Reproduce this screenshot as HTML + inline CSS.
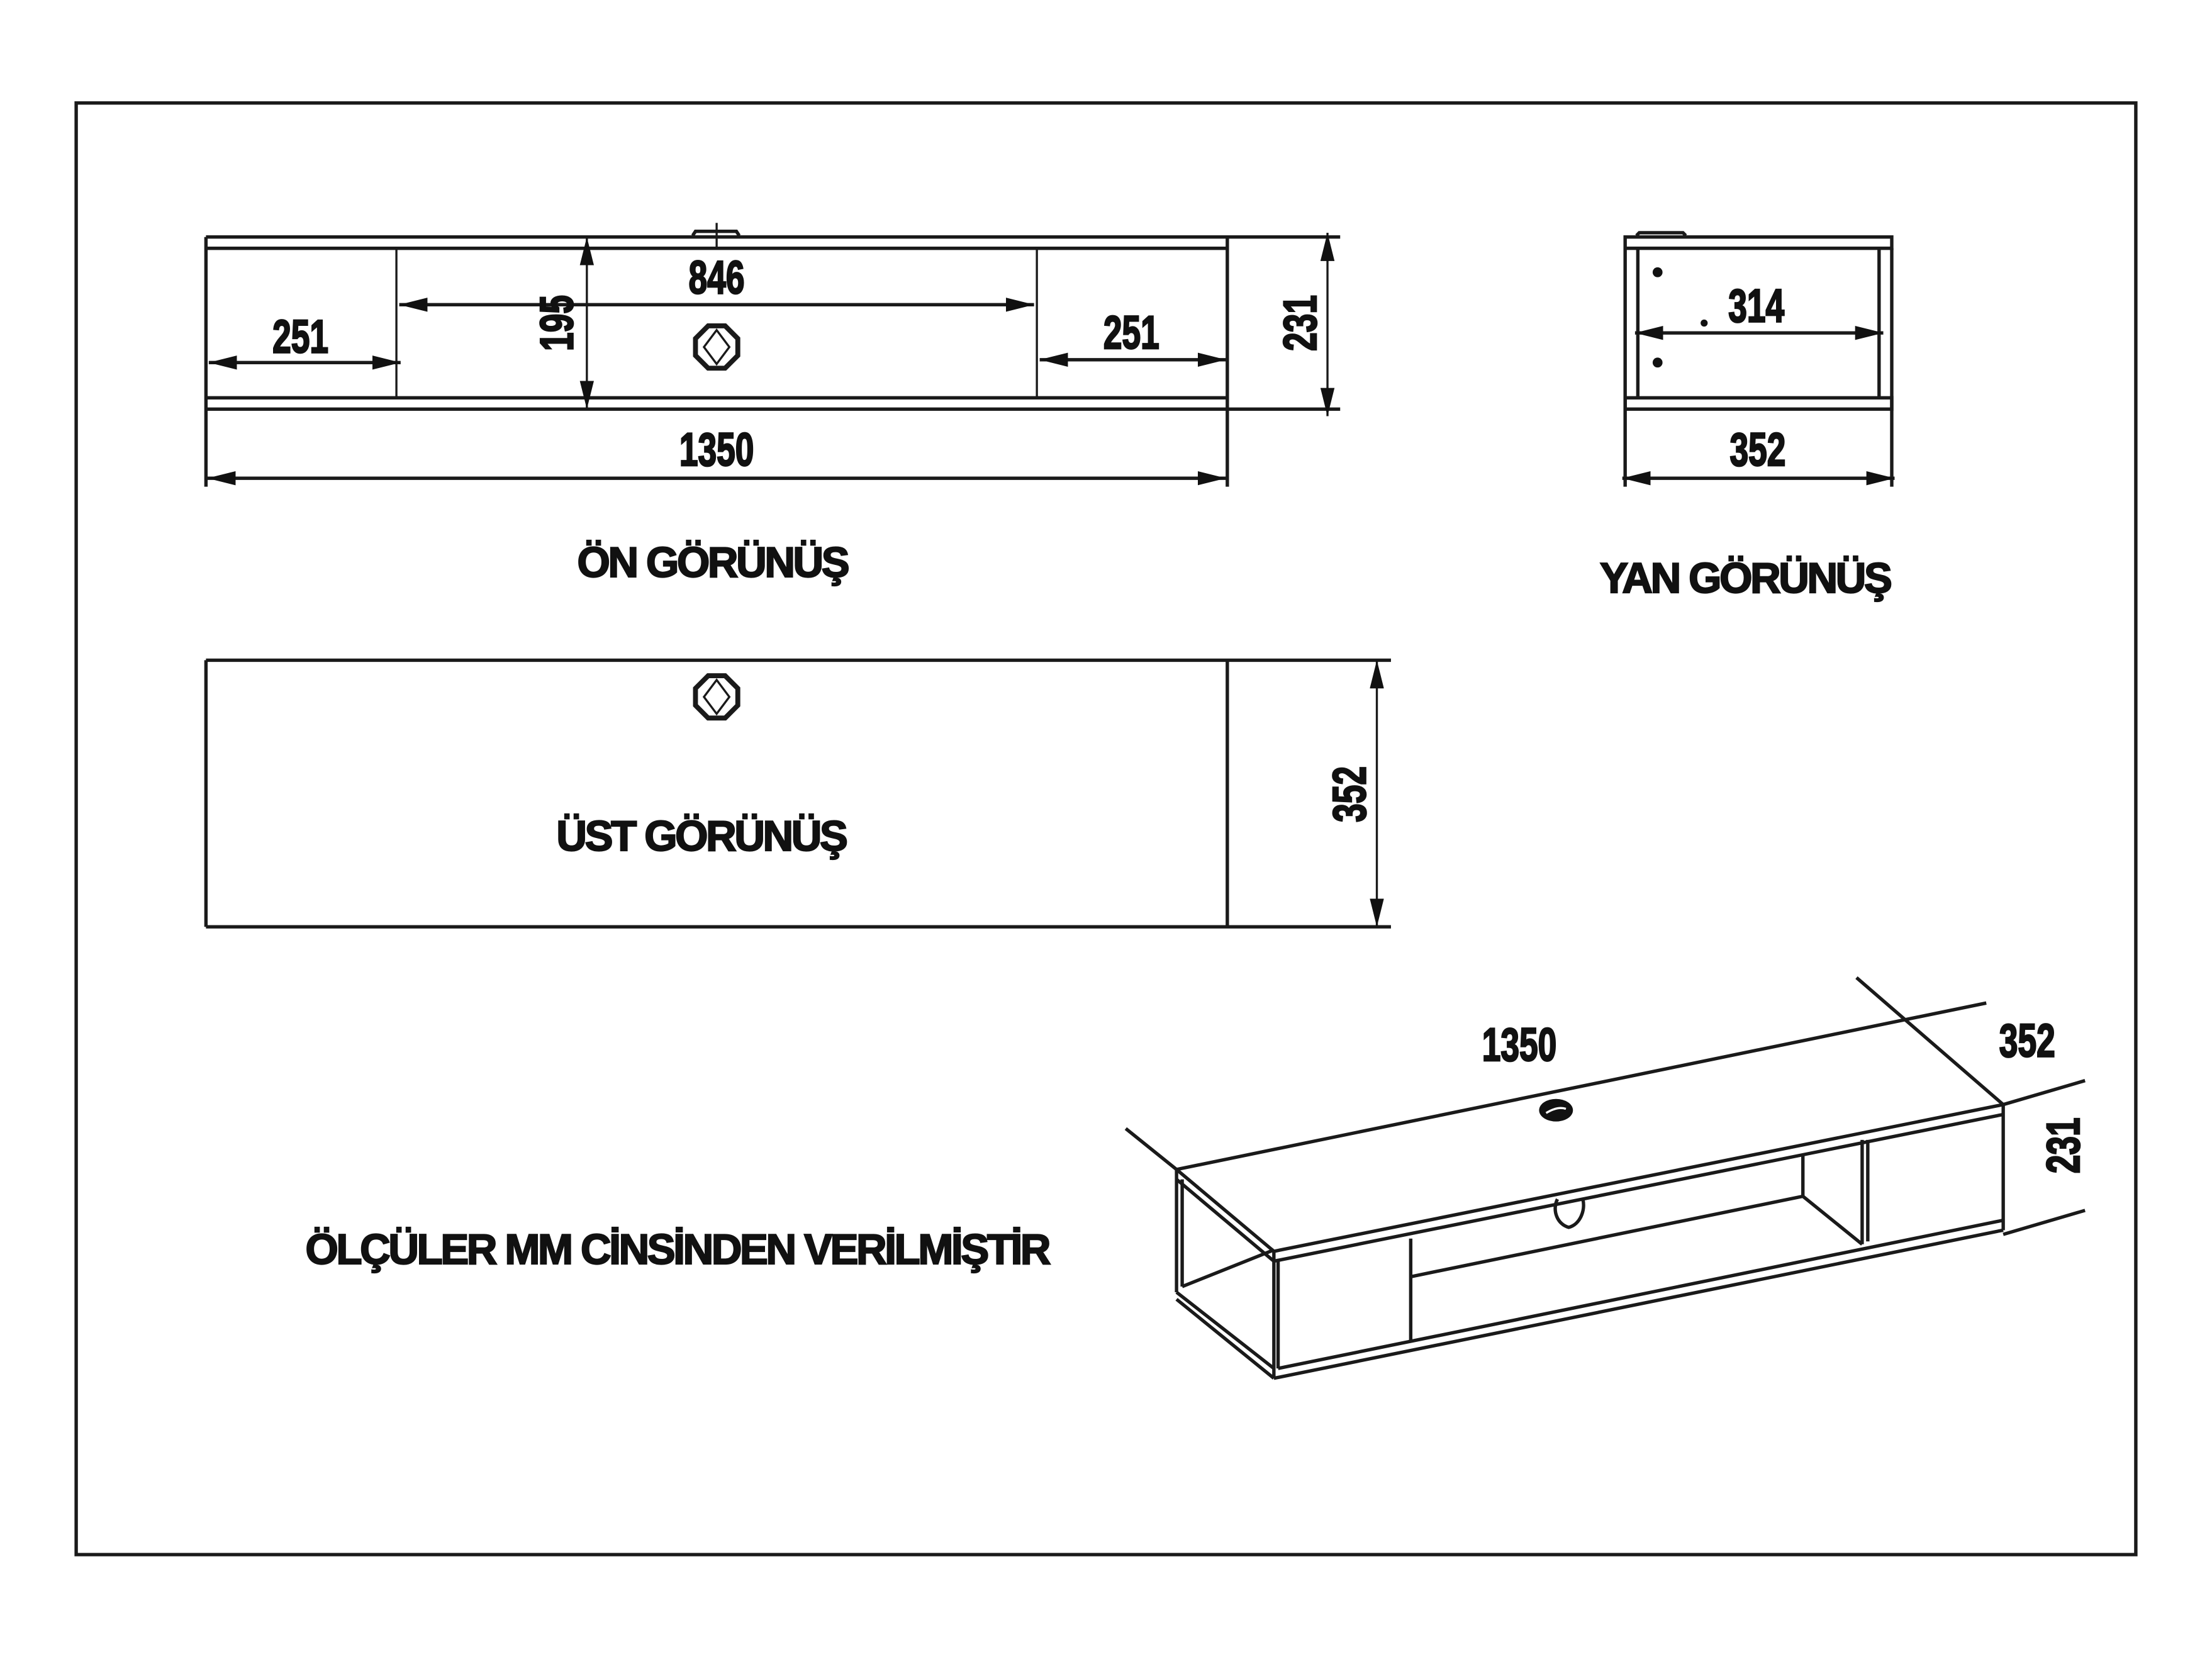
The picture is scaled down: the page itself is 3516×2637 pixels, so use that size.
<!DOCTYPE html>
<html><head><meta charset="utf-8"><style>
html,body{margin:0;padding:0;background:#fff}
svg{display:block}
.n{font-family:"Liberation Sans",sans-serif;font-weight:bold;font-size:33px;fill:#111;stroke:#111;stroke-width:1.2}
.l{font-family:"Liberation Sans",sans-serif;font-weight:bold;font-size:30px;fill:#111;stroke:#111;stroke-width:1;letter-spacing:-1.5px}
</style></head><body>
<svg width="3516" height="2637" viewBox="0 0 1568 1176" xmlns="http://www.w3.org/2000/svg">
<defs>
<marker id="a" viewBox="0 0 20 10" refX="20" refY="5" markerWidth="20" markerHeight="10" markerUnits="userSpaceOnUse" orient="auto-start-reverse"><path d="M0,0 L20,5 L0,10 Z" fill="#111"/></marker>
</defs>
<g fill="none" stroke="#1a1a1a" stroke-width="2.4">
<rect x="54" y="73" width="1460" height="1029"/>
<!-- front view -->
<line x1="146" y1="168" x2="950" y2="168"/>
<line x1="146" y1="176" x2="870" y2="176"/>
<line x1="146" y1="282" x2="870" y2="282"/>
<line x1="146" y1="290" x2="950" y2="290"/>
<line x1="146" y1="168" x2="146" y2="345"/>
<line x1="870" y1="168" x2="870" y2="345"/>
<line x1="281" y1="176" x2="281" y2="282" stroke-width="1.5"/>
<line x1="735" y1="176" x2="735" y2="282" stroke-width="1.5"/>
<line x1="508" y1="158" x2="508" y2="176" stroke-width="1.5"/>
<path d="M491,167 L493,164 L522,164 L524,167" stroke-width="2.4"/>
<line x1="148" y1="257" x2="284" y2="257" marker-start="url(#a)" marker-end="url(#a)"/>
<line x1="737" y1="255" x2="869" y2="255" marker-start="url(#a)" marker-end="url(#a)"/>
<line x1="283" y1="216" x2="733" y2="216" marker-start="url(#a)" marker-end="url(#a)"/>
<line x1="416" y1="168" x2="416" y2="290" stroke-width="1.5" marker-start="url(#a)" marker-end="url(#a)"/>
<line x1="941" y1="165" x2="941" y2="295" stroke-width="1.5" marker-start="url(#a)" marker-end="url(#a)"/>
<line x1="147" y1="339" x2="869" y2="339" marker-start="url(#a)" marker-end="url(#a)"/>
<polygon points="502,231 514,231 523,240 523,252 514,261 502,261 493,252 493,240" stroke-width="3.5"/>
<polygon points="508,234 517,246 508,258 499,246" stroke-width="1.5"/>
<!-- side view -->
<rect x="1152" y="168" width="189" height="8"/>
<rect x="1152" y="282" width="189" height="8"/>
<line x1="1152" y1="176" x2="1152" y2="345"/>
<line x1="1341" y1="176" x2="1341" y2="345"/>
<line x1="1161" y1="176" x2="1161" y2="282"/>
<line x1="1332" y1="176" x2="1332" y2="282"/>
<path d="M1160,167 L1162,165 L1193,165 L1195,167" stroke-width="2.4"/>
<line x1="1159" y1="236" x2="1335" y2="236" marker-start="url(#a)" marker-end="url(#a)"/>
<line x1="1150" y1="339" x2="1343" y2="339" marker-start="url(#a)" marker-end="url(#a)"/>
<!-- top view -->
<line x1="146" y1="468" x2="986" y2="468"/>
<line x1="146" y1="657" x2="986" y2="657"/>
<line x1="146" y1="468" x2="146" y2="657"/>
<line x1="870" y1="468" x2="870" y2="657"/>
<line x1="976" y1="468" x2="976" y2="657" stroke-width="1.5" marker-start="url(#a)" marker-end="url(#a)"/>
<polygon points="502,479 514,479 523,488 523,500 514,509 502,509 493,500 493,488" stroke-width="3.5"/>
<polygon points="508,482 517,494 508,506 499,494" stroke-width="1.5"/>
<!-- iso view -->
<line x1="798" y1="800" x2="834" y2="829"/>
<line x1="834" y1="829" x2="1408" y2="711"/>
<line x1="1316" y1="693" x2="1420" y2="783"/>
<line x1="834" y1="829" x2="903" y2="887"/>
<line x1="834" y1="836" x2="903" y2="894"/>
<line x1="903" y1="887" x2="1420" y2="783"/>
<line x1="903" y1="894" x2="1420" y2="790"/>
<line x1="834" y1="829" x2="834" y2="916"/>
<line x1="838" y1="836" x2="838" y2="912"/>
<line x1="903" y1="887" x2="903" y2="977"/>
<line x1="906" y1="894" x2="906" y2="970"/>
<line x1="1420" y1="783" x2="1420" y2="872"/>
<line x1="838" y1="912" x2="903" y2="886"/>
<line x1="834" y1="916" x2="903" y2="970"/>
<line x1="834" y1="921" x2="903" y2="977"/>
<line x1="906" y1="970" x2="1420" y2="865"/>
<line x1="903" y1="977" x2="1420" y2="872"/>
<line x1="1000" y1="878" x2="1000" y2="950"/>
<line x1="1000" y1="905" x2="1278" y2="848"/>
<line x1="1278" y1="818" x2="1278" y2="848"/>
<line x1="1278" y1="848" x2="1320" y2="882"/>
<line x1="1320" y1="808" x2="1320" y2="882"/>
<line x1="1324" y1="808" x2="1324" y2="880"/>
<line x1="1420" y1="783" x2="1478" y2="766"/>
<line x1="1420" y1="875" x2="1478" y2="858"/>
<path d="M1104,850 C1100,858 1104,868 1112,870 C1120,868 1124,858 1122,850" stroke-width="2.4"/>
</g>
<ellipse cx="1103" cy="787" rx="12" ry="8" fill="#111"/>
<path d="M1096,789 Q1104,784 1110,786" stroke="#fff" stroke-width="1.5" fill="none"/>
<g fill="#111">
<circle cx="1175" cy="193" r="3.5"/><circle cx="1175" cy="257" r="3.5"/><circle cx="1208" cy="229" r="2.5"/>
</g>
<g class="n" text-anchor="middle">
<text transform="translate(508,208) scale(0.72,1)">846</text>
<text transform="translate(213,250) scale(0.72,1)">251</text>
<text transform="translate(802,247) scale(0.72,1)">251</text>
<text transform="translate(508,330) scale(0.72,1)">1350</text>
<text transform="translate(406,229) rotate(-90) scale(0.72,1)">195</text>
<text transform="translate(933,229) rotate(-90) scale(0.72,1)">231</text>
<text transform="translate(1245,228) scale(0.72,1)">314</text>
<text transform="translate(1246,330) scale(0.72,1)">352</text>
<text transform="translate(968,563) rotate(-90) scale(0.72,1)">352</text>
<text transform="translate(1077,752) scale(0.72,1)">1350</text>
<text transform="translate(1437,749) scale(0.72,1)">352</text>
<text transform="translate(1474,812) rotate(-90) scale(0.72,1)">231</text>
</g>
<g class="l" text-anchor="middle">
<text x="505" y="409">ÖN GÖRÜNÜŞ</text>
<text x="1237" y="420">YAN GÖRÜNÜŞ</text>
<text x="497" y="603">ÜST GÖRÜNÜŞ</text>
<text x="480" y="896">ÖLÇÜLER MM CİNSİNDEN VERİLMİŞTİR</text>
</g>
</svg>
</body></html>
